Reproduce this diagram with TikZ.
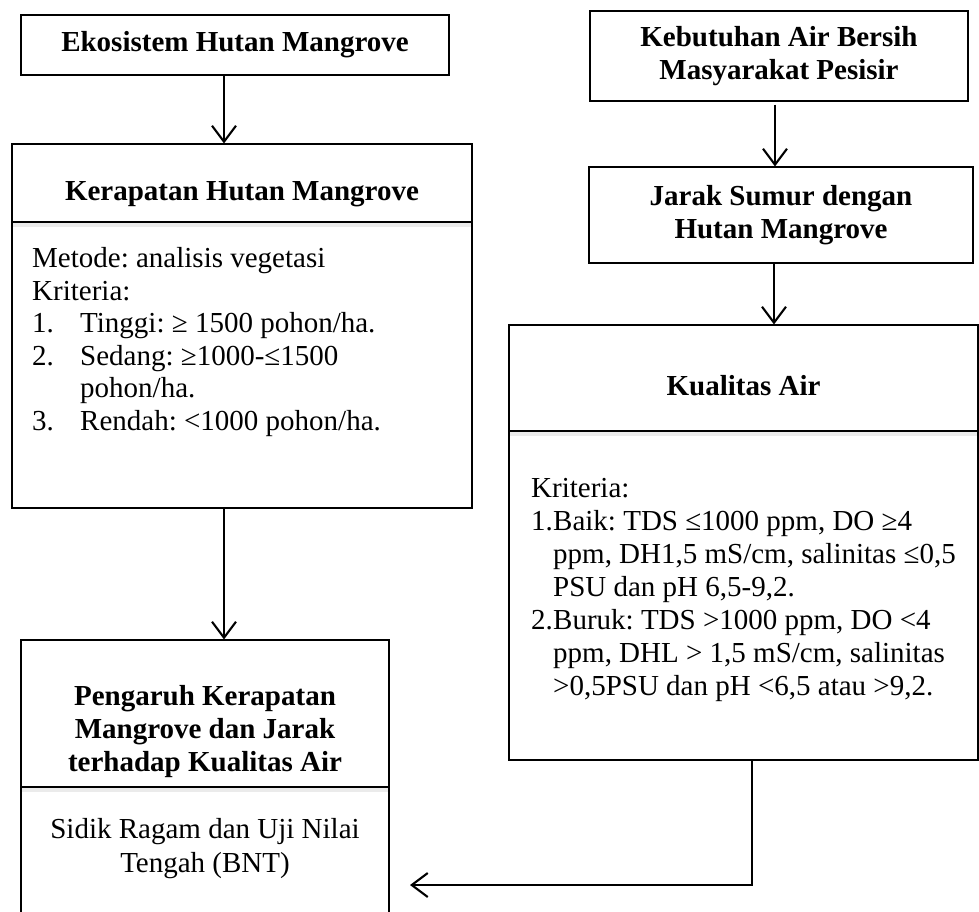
\documentclass[tikz,border=0pt]{standalone}
\usepackage{fontspec}
\setmainfont{Liberation Serif}
\usetikzlibrary{arrows.meta}
\usetikzlibrary{calc}
\usetikzlibrary{positioning}
\frenchspacing

\begin{document}
\begin{tikzpicture}[
  x = 1pt, y = -1pt,
  > = {Straight Barb[length=16pt,width=24pt]},
  txt/.style = {font=\fontsize{29}{32.5}\selectfont, inner sep=0pt},
  head/.style = {inner sep=0pt, align=center, font=\fontsize{29}{33}\selectfont\bfseries},
  box/.style = {draw, line width=1.1pt, head},
  cut/.style = {line width=1.1pt},
  shdw/.style = {line width=4pt, black!8},
  arr/.style = {->, line width=2.1pt}
  ]
  \useasboundingbox (0,0) rectangle (979,911);
  \clip (0,0) rectangle (979,911);

  % left column
  \node[box, minimum width=428pt, minimum height=60pt] (eko) at (235,45) {Ekosistem Hutan Mangrove};
  \node[box, minimum width=460pt, minimum height=364pt] (kerap) at (242,326) {};
  \node[box, minimum width=368pt, minimum height=300pt] (peng) at (205,790) {};

  % right column
  \node[box, minimum width=378pt, minimum height=90pt] (keb) at (779,56) {Kebutuhan Air Bersih\\Masyarakat Pesisir};
  \node[box, minimum width=384pt, minimum height=96pt] (jarak) at (781,215) {Jarak Sumur dengan\\Hutan Mangrove};
  \node[box, minimum width=469pt, minimum height=435pt] (kual) at (743.5,542.5) {};

  % dividers
  \coordinate (kerapCut) at (0,222);
  \coordinate (kualCut) at (0,431);
  \coordinate (pengCut) at (0,787);
  \draw[shdw] ($(kerap.west |- kerapCut)+(2,3)$) -- ($(kerap.east |- kerapCut)+(-2,3)$);
  \draw[shdw] ($(kual.west |- kualCut)+(2,3)$) -- ($(kual.east |- kualCut)+(-2,3)$);
  \draw[shdw] ($(peng.west |- pengCut)+(2,3)$) -- ($(peng.east |- pengCut)+(-2,3)$);
  \draw[cut] (kerap.west |- kerapCut) -- (kerap.east |- kerapCut);
  \draw[cut] (kual.west |- kualCut) -- (kual.east |- kualCut);
  \draw[cut] (peng.west |- pengCut) -- (peng.east |- pengCut);

  % texts
  \node[head] (kerapHead) at (242,194) {Kerapatan Hutan Mangrove};
  \node[txt, anchor=north west] (kerapBody) at (32,245) {%
    \begin{tabular}{@{}p{48pt}@{}l@{}}
      \multicolumn{2}{@{}l@{}}{Metode: analisis vegetasi}\\
      \multicolumn{2}{@{}l@{}}{Kriteria:}\\
      1. & Tinggi: ≥ 1500 pohon/ha.\\
      2. & Sedang: ≥1000-≤1500\\
         & pohon/ha.\\
      3. & Rendah: <1000 pohon/ha.
    \end{tabular}};

  \node[head] (kualHead) at (743.5,386) {Kualitas Air};
  \node[txt, anchor=north west, font=\fontsize{29}{33}\selectfont] (kualBody) at (531,474) {%
    \begin{tabular}{@{}p{22pt}@{}l@{}}
      \multicolumn{2}{@{}l@{}}{Kriteria:}\\
      1. & Baik: TDS ≤1000 ppm, DO ≥4\\
         & ppm, DH1,5 mS/cm, salinitas ≤0,5\\
         & PSU dan pH 6,5-9,2.\\
      2. & Buruk: TDS >1000 ppm, DO <4\\
         & ppm, DHL > 1,5 mS/cm, salinitas\\
         & >0,5PSU dan pH <6,5 atau >9,2.
    \end{tabular}};

  \node[head] (pengHead) at (205,732) {Pengaruh Kerapatan\\Mangrove dan Jarak\\terhadap Kualitas Air};
  \node[txt, align=center, font=\fontsize{29}{34}\selectfont] (pengBody) at (205,849) {Sidik Ragam dan Uji Nilai\\Tengah (BNT)};

  % arrows
  \coordinate (a1) at ($(eko.south)+(-11,0)$);
  \coordinate (a2) at ($(kerap.south)+(-18,0)$);
  \coordinate (a3) at ($(keb.south)+(-4,3)$);
  \coordinate (a4) at ($(jarak.south)+(-7,0)$);
  \coordinate (a5) at ($(kual.south)+(8.5,0)$);
  \coordinate (back) at (410,885);
  \draw[arr] (a1) -- (a1 |- kerap.north);
  \draw[arr] (a2) -- (a2 |- peng.north);
  \draw[arr] (a3) -- (a3 |- jarak.north);
  \draw[arr] (a4) -- (a4 |- kual.north);
  \draw[arr] (a5) |- (back);
\end{tikzpicture}
\end{document}
